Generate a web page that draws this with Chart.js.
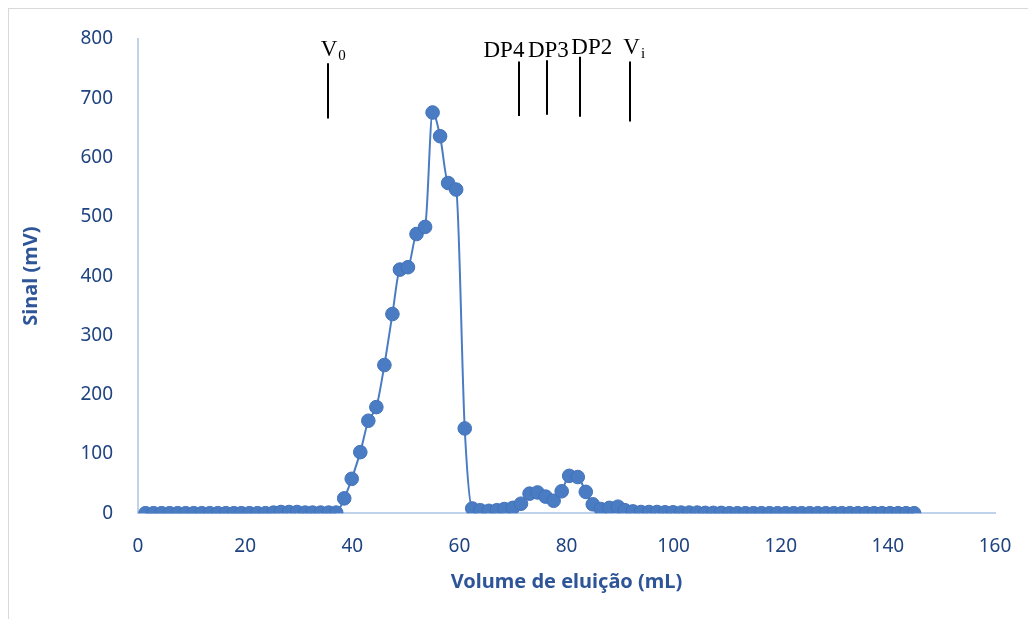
<!DOCTYPE html>
<html>
<head>
<meta charset="utf-8">
<script src="https://cdn.jsdelivr.net/npm/chart.js@4.4.0/dist/chart.umd.min.js"></script>
<style>
  body { margin: 0; overflow: hidden; background: #fff; }
  #frame { position: absolute; left: 8px; top: 8px; width: 1100px; height: 700px; border: 1px solid #d9d9d9; }
  #c { position: absolute; left: 0; top: 0; }
</style>
</head>
<body>
<div id="frame"></div>
<canvas id="c" width="1028" height="619"></canvas>
<script>
// elution volume (mL) of each fraction
const volumes = [
  1.4, 2.9, 4.4, 5.9, 7.4, 8.9, 10.4, 11.9, 13.4, 14.9, 16.4, 17.9, 19.3, 20.8, 22.3, 23.8, 25.3,
  26.7, 28.2, 29.7, 31.2, 32.6, 34.1, 35.6, 37.0,
  38.5, 39.9, 41.5, 43.0, 44.5, 46.0, 47.5, 48.9, 50.4, 52.0, 53.6, 55.0, 56.4, 57.9, 59.4, 61.0, 62.4,
  63.9, 65.5, 67.0, 68.4, 70.0, 71.5, 73.1, 74.6, 76.1, 77.6, 79.1, 80.5, 82.1, 83.6, 84.9, 86.4, 88.0,
  89.6, 90.9, 92.4,
  93.9, 95.4, 96.9, 98.4, 99.9, 101.4, 102.9, 104.4, 105.9, 107.4, 108.9, 110.4, 111.9, 113.4, 114.9,
  116.4, 117.9, 119.4, 120.9, 122.4, 123.9, 125.4, 126.9, 128.4, 129.9, 131.4, 132.9, 134.4, 135.9,
  137.4, 138.9, 140.4, 141.9, 143.4, 144.9
];
// detector signal (mV)
const signal = [
  0, 0, 0, 0, 0, 0, 0, 0, 0, 0, 0, 0, 0, 0, 0, 0, 1,
  2, 2, 2, 1, 1, 1, 1, 1,
  25, 58, 103, 156, 179, 250, 336, 411, 415, 471, 483, 676, 636, 557, 546, 143, 8,
  5, 4, 5, 7, 9, 16, 33, 35, 28, 21, 37, 63, 61, 36, 15, 7, 9,
  11, 5, 3,
  2, 2, 2, 1.5, 1.5, 1, 1, 1, 0.5, 0.5, 0.5, 0, 0, 0, 0,
  0, 0, 0, 0, 0, 0, 0, 0, 0, 0, 0, 0, 0, 0,
  0, 0, 0, 0, 0, 0
];
const xTicks = [0, 20, 40, 60, 80, 100, 120, 140, 160];
const yTicks = [0, 100, 200, 300, 400, 500, 600, 700, 800];

// reference volume markers: V0, DP4, DP3, DP2, Vi
const markerNames = ['V', 'DP4', 'DP3', 'DP2', 'V'];
const markerSubs = ['0', '', '', '', 'i'];
const markerVolumes = [35.4, 71.1, 76.4, 82.5, 91.9];
const markerTop = [759, 762, 764, 770, 762];
const markerBottom = [666, 670, 672, 669, 661];
const labelVolumes = [34.1, 64.5, 72.8, 80.9, 90.6];
const labelSignal = [771, 770, 769, 774, 774];

const blue = '#4a7cc4';
const tickBlue = '#1f4380';
const titleBlue = '#2e5597';
const axisLine = '#c0d3ec';

const markerPlugin = {
  id: 'markers',
  afterDatasetsDraw(chart) {
    const { ctx, scales: { x, y } } = chart;
    ctx.save();
    ctx.strokeStyle = '#000';
    ctx.lineWidth = 2;
    ctx.fillStyle = '#000';
    ctx.textBaseline = 'alphabetic';
    ctx.textAlign = 'left';
    markerNames.forEach((name, i) => {
      const px = Math.round(x.getPixelForValue(markerVolumes[i]));
      ctx.beginPath();
      ctx.moveTo(px, y.getPixelForValue(markerTop[i]));
      ctx.lineTo(px, y.getPixelForValue(markerBottom[i]));
      ctx.stroke();
      const lx = x.getPixelForValue(labelVolumes[i]);
      const ly = y.getPixelForValue(labelSignal[i]);
      ctx.font = '23px "Liberation Serif", "Times New Roman", serif';
      ctx.fillText(name, lx, ly);
      if (markerSubs[i]) {
        const w = ctx.measureText(name).width;
        ctx.font = '15px "Liberation Serif", "Times New Roman", serif';
        ctx.fillText(markerSubs[i], lx + w + 1, ly + 4);
      }
    });
    ctx.restore();
  }
};

new Chart(document.getElementById('c'), {
  type: 'line',
  data: {
    datasets: [{
      data: volumes.map((v, i) => ({ x: v, y: signal[i] })),
      borderColor: blue,
      borderWidth: 2,
      backgroundColor: blue,
      pointBackgroundColor: blue,
      pointBorderColor: '#4372b8',
      pointBorderWidth: 1,
      pointRadius: 6.8,
      cubicInterpolationMode: 'monotone',
      fill: false
    }]
  },
  options: {
    responsive: false,
    animation: false,
    devicePixelRatio: 1,
    layout: { padding: { top: 39, right: 33, bottom: 0, left: 0 } },
    plugins: { legend: { display: false }, tooltip: { enabled: false } },
    scales: {
      x: {
        type: 'linear',
        min: 0, max: 160,
        afterBuildTicks: s => { s.ticks = xTicks.map(v => ({ value: v })); },
        afterFit: s => { s.paddingRight = 0; s.paddingLeft = 0; },
        grid: { display: false, drawTicks: false },
        border: { display: true, color: axisLine, width: 2 },
        ticks: { color: tickBlue, padding: 22, maxRotation: 0, font: { family: 'Noto Sans', size: 19 } },
        title: {
          display: true,
          text: 'Volume de eluição (mL)',
          color: titleBlue,
          font: { family: 'Noto Sans', size: 20, weight: 'bold' },
          padding: { top: -10, bottom: 25 }
        }
      },
      y: {
        min: 0, max: 800,
        afterBuildTicks: s => { s.ticks = yTicks.map(v => ({ value: v })); },
        afterFit: s => { s.width = 138; },
        grid: { display: false, drawTicks: false },
        border: { display: true, color: axisLine, width: 2 },
        ticks: { color: tickBlue, padding: 25, font: { family: 'Noto Sans', size: 19 } },
        title: {
          display: true,
          text: 'Sinal (mV)',
          color: titleBlue,
          font: { family: 'Noto Sans', size: 20, weight: 'bold' },
          padding: { top: 19, bottom: 0 }
        }
      }
    }
  },
  plugins: [markerPlugin]
});
</script>
</body>
</html>
